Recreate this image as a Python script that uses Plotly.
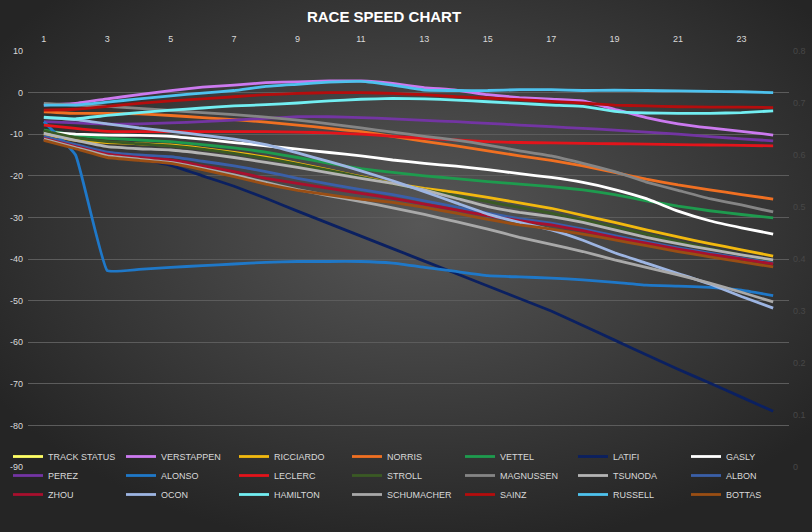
import base64
import plotly.graph_objects as go

# ---------------- data ----------------
laps = list(range(1, 25))
x_tick_laps = [1, 3, 5, 7, 9, 11, 13, 15, 17, 19, 21, 23]
y_ticks = [10, 0, -10, -20, -30, -40, -50, -60, -70, -80, -90]
y_ticktext = ["10", "0", "-10", "-20", "-30", "-40", "-50", "-60", "-70", "-80", "-90"]
y2_ticks = [0.8, 0.7, 0.6, 0.5, 0.4, 0.3, 0.2, 0.1, 0]
y2_ticktext = ["0.8", "0.7", "0.6", "0.5", "0.4", "0.3", "0.2", "0.1", "0"]

track_status = [None] * 24
verstappen = [-3.0, -2.6, -1.5, -0.5, 0.5, 1.3, 1.8, 2.4, 2.6, 2.8, 2.8, 2.2, 1.2, 0.6, -0.5, -1.2, -1.6, -2.0, -4.0, -6.0, -7.5, -8.5, -9.3, -10.2]
ricciardo = [-10.0, -11.5, -12.0, -12.3, -12.6, -13.4, -14.4, -15.5, -17.0, -18.6, -20.2, -21.8, -23.0, -24.0, -25.2, -26.5, -27.8, -29.5, -31.2, -33.0, -34.7, -36.3, -37.8, -39.3]
norris = [-4.6, -5.0, -5.0, -5.1, -5.5, -6.0, -6.5, -7.1, -7.8, -8.6, -9.4, -10.5, -11.7, -12.8, -14.0, -15.2, -16.3, -17.6, -19.2, -20.8, -22.2, -23.4, -24.5, -25.6]
vettel = [-9.0, -10.2, -11.0, -11.4, -11.8, -12.5, -13.3, -14.3, -15.6, -17.0, -18.3, -19.2, -20.0, -20.7, -21.4, -22.0, -22.6, -23.4, -24.5, -26.0, -27.3, -28.4, -29.3, -30.1]
latifi = [-10.8, -12.8, -14.5, -16.0, -17.5, -20.0, -22.5, -25.4, -28.5, -31.5, -34.5, -37.5, -40.5, -43.5, -46.5, -49.5, -52.5, -56.0, -59.5, -63.0, -66.5, -69.8, -73.2, -76.6]
gasly = [-9.5, -10.0, -10.2, -10.3, -10.5, -11.2, -12.0, -12.8, -13.6, -14.4, -15.2, -16.2, -17.0, -17.7, -18.5, -19.5, -20.4, -21.6, -23.3, -25.5, -28.5, -30.8, -32.5, -34.0]
perez = [-7.0, -7.3, -7.6, -7.5, -7.3, -7.0, -6.6, -6.2, -5.8, -5.8, -6.0, -6.3, -6.7, -7.0, -7.4, -7.8, -8.2, -8.6, -9.0, -9.5, -10.0, -10.6, -11.1, -11.6]
alonso = [-7.0, -15.0, -42.8, -42.5, -42.0, -41.6, -41.2, -40.8, -40.6, -40.6, -40.6, -41.0, -42.0, -43.0, -44.0, -44.3, -44.6, -45.0, -45.6, -46.3, -46.5, -46.8, -47.5, -48.8]
leclerc = [-7.8, -8.6, -9.3, -9.4, -9.4, -9.4, -9.4, -9.4, -9.5, -9.7, -10.0, -10.5, -11.0, -11.4, -11.8, -12.0, -12.1, -12.2, -12.3, -12.4, -12.5, -12.6, -12.7, -12.8]
stroll = [-9.2, -10.8, -11.8, -12.3, -12.8, -13.6, -14.6, -15.8, -17.2, -18.7, -20.3, -21.9, -23.4, -24.8, -26.2, -27.6, -29.0, -30.6, -32.3, -34.0, -35.8, -37.5, -39.0, -40.6]
magnussen = [-2.6, -3.0, -3.3, -3.8, -4.3, -4.8, -5.3, -5.9, -6.6, -7.5, -8.5, -9.5, -10.5, -11.4, -12.6, -14.0, -15.2, -17.0, -19.0, -21.5, -23.5, -25.5, -27.0, -28.7]
tsunoda = [-9.8, -11.5, -13.0, -13.5, -13.8, -14.6, -15.6, -16.8, -18.0, -19.3, -20.6, -21.8, -23.4, -25.4, -27.4, -28.8, -29.8, -31.2, -33.0, -34.8, -36.3, -37.7, -39.0, -40.2]
albon = [-10.5, -12.5, -14.3, -15.0, -15.4, -16.5, -17.6, -19.0, -20.6, -22.0, -23.3, -24.5, -26.0, -27.5, -29.0, -30.3, -31.4, -32.8, -34.4, -35.9, -37.3, -38.6, -39.8, -41.0]
zhou = [-11.0, -13.0, -14.8, -15.6, -16.2, -17.6, -19.0, -20.6, -21.8, -23.0, -24.2, -25.4, -26.8, -28.2, -29.6, -30.8, -31.8, -33.2, -34.8, -36.2, -37.6, -38.9, -40.0, -41.2]
ocon = [-6.0, -6.5, -7.5, -8.5, -9.3, -10.2, -11.2, -12.5, -14.5, -16.6, -18.8, -21.2, -23.8, -26.5, -29.2, -31.2, -33.0, -35.5, -38.5, -41.0, -43.5, -46.0, -49.0, -51.8]
hamilton = [-5.9, -6.3, -5.5, -4.8, -4.2, -3.7, -3.2, -2.9, -2.5, -2.0, -1.6, -1.4, -1.5, -1.8, -2.2, -2.6, -3.0, -3.3, -4.5, -4.9, -5.0, -5.0, -4.8, -4.4]
schumacher = [-11.2, -13.2, -15.2, -16.0, -16.8, -18.2, -19.8, -21.6, -23.3, -24.8, -26.2, -27.7, -29.3, -31.0, -32.8, -34.8, -36.5, -38.2, -40.2, -42.0, -43.8, -45.8, -48.0, -50.3]
sainz = [-4.2, -4.0, -3.3, -2.6, -2.0, -1.5, -1.0, -0.5, -0.2, 0.0, 0.0, -0.2, -0.5, -1.0, -1.3, -1.7, -2.1, -2.5, -3.0, -3.2, -3.4, -3.5, -3.5, -3.6]
russell = [-3.0, -3.0, -2.3, -1.5, -0.8, -0.1, 0.5, 1.5, 2.0, 2.5, 2.7, 1.8, 0.6, 0.5, 0.5, 0.7, 0.7, 0.5, 0.6, 0.5, 0.4, 0.3, 0.2, 0.0]
bottas = [-11.5, -13.5, -15.6, -16.3, -17.0, -18.5, -20.2, -22.0, -23.5, -24.6, -25.6, -26.4, -27.6, -29.0, -30.5, -31.8, -32.8, -34.0, -35.4, -36.8, -38.2, -39.5, -40.7, -41.9]

series = [
    ("TRACK STATUS", track_status, "#FFFF66"),
    ("VERSTAPPEN", verstappen, "#CC7AF0"),
    ("RICCIARDO", ricciardo, "#F2B90F"),
    ("NORRIS", norris, "#F07022"),
    ("VETTEL", vettel, "#1E9B4E"),
    ("LATIFI", latifi, "#0B2060"),
    ("GASLY", gasly, "#FFFFFF"),
    ("PEREZ", perez, "#7335A3"),
    ("ALONSO", alonso, "#1F78C8"),
    ("LECLERC", leclerc, "#E3141B"),
    ("STROLL", stroll, "#3A5A24"),
    ("MAGNUSSEN", magnussen, "#858585"),
    ("TSUNODA", tsunoda, "#B4B4B4"),
    ("ALBON", albon, "#3A5FA8"),
    ("ZHOU", zhou, "#A8102E"),
    ("OCON", ocon, "#9DB5E2"),
    ("HAMILTON", hamilton, "#72EEF2"),
    ("SCHUMACHER", schumacher, "#A9A9A9"),
    ("SAINZ", sainz, "#B50D0D"),
    ("RUSSELL", russell, "#4EC2EE"),
    ("BOTTAS", bottas, "#9A4E14"),
]

# ---------------- figure ----------------
W, H = 812, 532
fig = go.Figure()
for name, vals, color in series:
    fig.add_trace(go.Scatter(
        x=laps, y=vals, name=name, mode="lines",
        line=dict(color=color, width=2.8, shape="spline", smoothing=0.3),
        yaxis="y2" if name == "TRACK STATUS" else "y",
        hoverinfo="name+y",
    ))

svg = (
    '<svg xmlns="http://www.w3.org/2000/svg" width="812" height="532">'
    '<defs><radialGradient id="g" cx="52%" cy="42%" r="62%">'
    '<stop offset="0" stop-color="#575757"/>'
    '<stop offset="1" stop-color="#252525"/>'
    '</radialGradient></defs>'
    '<rect width="812" height="532" fill="url(#g)"/></svg>'
)
bg_src = "data:image/svg+xml;base64," + base64.b64encode(svg.encode()).decode()

tick_font = dict(family="Liberation Sans, Arial, sans-serif", size=9, color="#d9d9d9")

fig.update_layout(
    width=W, height=H,
    margin=dict(l=0, r=0, t=0, b=0, autoexpand=False),
    paper_bgcolor="#333333",
    plot_bgcolor="rgba(0,0,0,0)",
    images=[dict(source=bg_src, xref="paper", yref="paper", x=0, y=1,
                 sizex=1, sizey=1, sizing="stretch", xanchor="left",
                 yanchor="top", layer="below")],
    title=dict(text="<b>RACE SPEED CHART</b>", x=384 / W, y=1 - 17 / H,
               xanchor="center", yanchor="middle",
               font=dict(family="Liberation Sans, Arial, sans-serif", size=15, color="#ffffff")),
    xaxis=dict(domain=[28 / W, 789 / W], range=[0.5, 24.5], side="top",
               tickvals=x_tick_laps, ticktext=[str(v) for v in x_tick_laps],
               showgrid=False, zeroline=False, showline=False, ticks="",
               automargin=False,
               tickfont=tick_font, ticklabelstandoff=6),
    yaxis=dict(domain=[1 - 467 / H, 1 - 51 / H], range=[-90, 10],
               tickvals=y_ticks, ticktext=y_ticktext,
               showgrid=True, gridcolor="#5c5c5c", gridwidth=1,
               zeroline=False, showline=False, ticks="",
               automargin=False,
               tickfont=tick_font, ticklabelstandoff=4),
    yaxis2=dict(overlaying="y", side="right", range=[0, 0.8],
                tickvals=y2_ticks, ticktext=y2_ticktext,
                showgrid=False, zeroline=False, showline=False, ticks="",
                automargin=False,
                tickfont=dict(family="Liberation Sans, Arial, sans-serif", size=9, color="#474747"),
                ticklabelstandoff=3),
    showlegend=True,
    legend=dict(orientation="h", x=8 / W, xanchor="left", y=1 - 442 / H, yanchor="top",
                entrywidth=68, entrywidthmode="pixels", itemwidth=30,
                bgcolor="rgba(0,0,0,0)", tracegroupgap=0,
                font=dict(family="Liberation Sans Narrow, Arial Narrow, sans-serif",
                          size=9, color="#d9d9d9")),
)

fig.write_html(
    "out.html",
    config={"displayModeBar": False},
    post_script="document.body.style.margin='0';document.body.style.padding='0';"
                "document.body.style.background='#252525';",
)
